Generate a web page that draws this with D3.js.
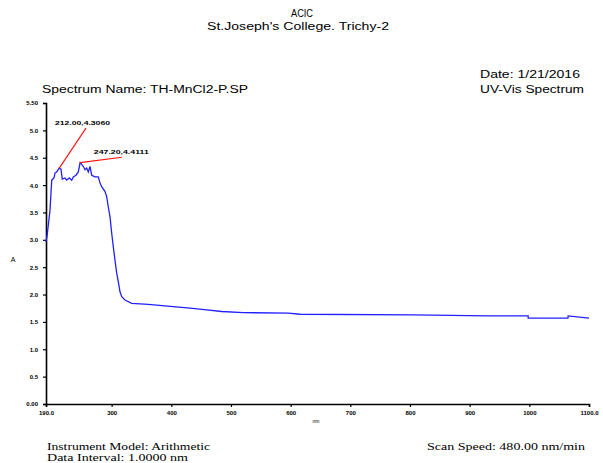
<!DOCTYPE html>
<html lang="en">
<head>
    <style>
        body { margin: 0; background: #fff; }
        svg { display: block; }
        text { font-family: "Liberation Sans", Arial, sans-serif; fill: #000; }
        .serif { font-family: "Liberation Serif", "DejaVu Serif", serif; }
    </style>
</head>
<body>
    <svg width="603" height="463"></svg>
    <script src="https://cdn.jsdelivr.net/npm/d3@7/dist/d3.min.js"></script>
    <script>
        // Spectrum (nm, absorbance)
        const wavelength = [190, 192, 196.7, 199.6, 203.4, 205.1, 207.9, 212, 215.1, 217.3, 221.8, 224.7, 229, 233.1,
            235.8, 240.3, 244.1, 247.2, 249.8, 252.5, 255.4, 258.2, 260.9, 263.7, 266.6, 272.1, 277.6, 280.5,
            283.3, 288.9, 291.7, 294.4, 297.3, 300.1, 302.8, 305.6, 308.5, 311.2, 314, 316.9, 322.4, 333.6,
            361.4, 403.3, 431.3, 459.3, 484.5, 520.7, 596, 615.7, 805, 930.7, 998, 998.1, 1064.8, 1065, 1100];
        const absorbance = [2.96, 3.09, 3.54, 4.09, 4.13, 4.22, 4.24, 4.31, 4.29, 4.11, 4.13, 4.09, 4.13, 4.09,
            4.15, 4.18, 4.24, 4.41, 4.38, 4.34, 4.28, 4.31, 4.24, 4.34, 4.18, 4.15, 4.15, 4.04,
            3.97, 3.88, 3.79, 3.60, 3.42, 3.12, 2.87, 2.63, 2.39, 2.23, 2.05, 1.96, 1.90, 1.84,
            1.82, 1.78, 1.75, 1.72, 1.69, 1.67, 1.66, 1.64, 1.63, 1.61, 1.61, 1.57, 1.57, 1.61, 1.57];

        // Peak annotations
        const peakNm = [212, 247.2];
        const peakA = [4.306, 4.4111];
        const peakText = ["212.00,4.3060", "247.20,4.4111"];
        const labelNm = [257, 317];
        const labelA = [5.04, 4.51];

        const xTicks = [190, 300, 400, 500, 600, 700, 800, 900, 1000, 1100];
        const xTickLabels = ["190.0", "300", "400", "500", "600", "700", "800", "900", "1000", "1100.0"];
        const yTicks = [0, 0.5, 1, 1.5, 2, 2.5, 3, 3.5, 4, 4.5, 5, 5.5];
        const yTickLabels = ["0.00", "0.5", "1.0", "1.5", "2.0", "2.5", "3.0", "3.5", "4.0", "4.5", "5.0", "5.50"];

        const svg = d3.select("svg");

        const x = d3.scaleLinear().domain([190, 1100]).range([46, 589]);
        const y = d3.scaleLinear().domain([0, 5.5]).range([404, 103]);

        /******************** Header texts ********************/
        const header = [
            { t: "ACIC", x: 302, y: 17, a: "middle", w: 22 },
            { t: "St.Joseph's College. Trichy-2", x: 298, y: 30, a: "middle", w: 182 },
            { t: "Spectrum Name: TH-MnCl2-P.SP", x: 42, y: 93, a: "start", w: 206 },
            { t: "Date: 1/21/2016", x: 480, y: 78, a: "start", w: 100 },
            { t: "UV-Vis Spectrum", x: 480, y: 93, a: "start", w: 104 }
        ];
        svg.selectAll(".hdr").data(header).enter()
            .append("text").attr("class", "hdr")
            .attr("x", d => d.a === "middle" ? d.x - d.w / 2 : d.x)
            .attr("y", d => d.y)
            .attr("textLength", d => d.w).attr("lengthAdjust", "spacingAndGlyphs")
            .style("font-size", "10px").attr("fill", "#111")
            .text(d => d.t);

        /******************** Axes ********************/
        const xAxis = svg.append("g").attr("transform", "translate(0,404)")
            .call(d3.axisBottom(x).tickValues(xTicks).tickSize(3).tickFormat((d, i) => xTickLabels[i]));
        const yAxis = svg.append("g").attr("transform", "translate(46,0)")
            .call(d3.axisLeft(y).tickValues(yTicks).tickSize(3).tickFormat((d, i) => yTickLabels[i]));

        [xAxis, yAxis].forEach(g => {
            g.select(".domain").attr("stroke", "#000").attr("stroke-width", 1.6);
            g.selectAll(".tick line").attr("stroke", "#000").attr("stroke-width", 1.2);
            g.selectAll(".tick text").style("font-size", "6px").style("font-weight", "bold")
                .attr("fill", "#222");
        });
        xAxis.selectAll(".tick text").attr("dy", "0.5em").attr("y", 8);
        yAxis.selectAll(".tick text").attr("x", -8);

        svg.append("text").attr("x", 316).attr("y", 423).attr("text-anchor", "middle")
            .style("font-size", "5px").text("nm");
        svg.append("text").attr("x", 13).attr("y", 262).attr("text-anchor", "middle")
            .style("font-size", "7px").text("A");

        /******************** Spectrum ********************/
        const pts = wavelength.map((w, i) => [w, absorbance[i]]);
        svg.append("path").datum(pts)
            .attr("d", d3.line().x(d => x(d[0])).y(d => y(d[1])))
            .attr("fill", "none").attr("stroke", "#2020ff").attr("stroke-width", 1.3);

        /******************** Peak labels ********************/
        const peaks = peakNm.map((p, i) => ({ nm: p, a: peakA[i], t: peakText[i], lx: labelNm[i], ly: labelA[i] }));
        svg.selectAll(".pk").data(peaks).enter()
            .append("line").attr("class", "pk")
            .attr("x1", d => x(d.nm)).attr("y1", d => y(d.a))
            .attr("x2", d => x(d.lx)).attr("y2", d => y(d.ly))
            .attr("stroke", "#ff1010").attr("stroke-width", 1.1);
        svg.selectAll(".pkt").data(peaks).enter()
            .append("text").attr("class", "pkt")
            .attr("x", (d, i) => x(d.lx) - (i === 0 ? 31 : 28))
            .attr("y", d => y(d.ly) - 3)
            .attr("textLength", 55).attr("lengthAdjust", "spacingAndGlyphs")
            .style("font-size", "5.5px").style("font-weight", "bold").attr("fill", "#333")
            .text(d => d.t);

        /******************** Footer ********************/
        const footer = [
            { t: "Instrument Model: Arithmetic", x: 47, y: 450, w: 163 },
            { t: "Data Interval: 1.0000 nm", x: 47, y: 461, w: 141 },
            { t: "Scan Speed: 480.00 nm/min", x: 427, y: 450, w: 158 }
        ];
        svg.selectAll(".ftr").data(footer).enter()
            .append("text").attr("class", "ftr serif")
            .attr("x", d => d.x).attr("y", d => d.y)
            .attr("textLength", d => d.w).attr("lengthAdjust", "spacingAndGlyphs")
            .style("font-size", "9.5px").attr("fill", "#111")
            .text(d => d.t);
    </script>
</body>
</html>
